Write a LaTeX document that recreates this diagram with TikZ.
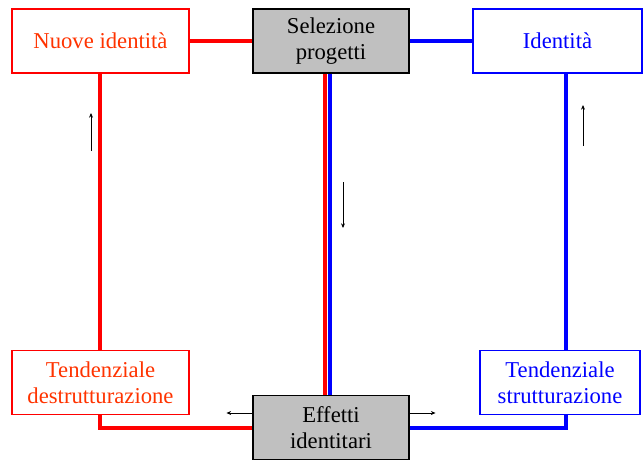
\documentclass[tikz,border=0pt]{standalone}
\usepackage{fontspec}
\setmainfont{Liberation Serif}
\usetikzlibrary{arrows.meta}
\definecolor{rosso}{RGB}{255,0,0}
\definecolor{rossotesto}{RGB}{255,51,0}
\definecolor{blu}{RGB}{0,0,255}
\definecolor{grigio}{RGB}{192,192,192}
\begin{document}
\begin{tikzpicture}[x=0.75pt, y=-0.75pt,
  box/.style={draw, align=center, inner sep=0pt, minimum height=48pt,
    font=\fontsize{17}{19.5}\selectfont, line width=0.8pt},
  grigiobox/.style={box, fill=grigio, minimum width=117pt},
  rossobox/.style={box, draw=rosso, text=rossotesto, minimum width=132.75pt},
  blubox/.style={box, draw=blu, text=blu},
  rossolinea/.style={draw=rosso, line width=3pt},
  blulinea/.style={draw=blu, line width=3pt},
  freccia/.style={-{Stealth[length=3.5pt, width=3pt]}, line width=0.6pt}]
\useasboundingbox (0,0) rectangle (643,461);
% caselle
\node[rossobox] (nuove) at (100.5,41) {Nuove identità};
\node[grigiobox] (selezione) at (331,41) {Selezione\\progetti};
\node[blubox, minimum width=126.75pt] (identita) at (557.5,41) {Identità};
\node[rossobox] (destr) at (100.5,382.5) {Tendenziale\\destrutturazione};
\node[grigiobox] (effetti) at (331,427.5) {Effetti\\identitari};
\node[blubox, minimum width=120pt] (strutt) at (560,382.5) {Tendenziale\\strutturazione};
% linee rosse
\draw[rossolinea] (nuove) -- (selezione);
\draw[rossolinea] (nuove.south -| 100,0) -- (destr.north -| 100,0);
\draw[rossolinea] (destr.south -| 100,0) |- (effetti.west);
\draw[rossolinea] (selezione.south -| 325,0) -- (effetti.north -| 325,0);
% linee blu
\draw[blulinea] (selezione) -- (identita);
\draw[blulinea] (identita.south -| 566,0) -- (strutt.north -| 566,0);
\draw[blulinea] (strutt.south -| 566,0) |- (effetti.east);
\draw[blulinea] (selezione.south -| 330,0) -- (effetti.north -| 330,0);
% frecce
\coordinate (f1) at (91,151);
\coordinate (f2) at (343,182);
\coordinate (f3) at (583,146);
\draw[freccia] (f1) -- ++(0,-38);
\draw[freccia] (f2) -- ++(0,46);
\draw[freccia] (f3) -- ++(0,-41);
\draw[freccia] (effetti.west |- 0,413) -- ++(-26,0);
\draw[freccia] (effetti.east |- 0,413) -- ++(26,0);
\end{tikzpicture}
\end{document}
